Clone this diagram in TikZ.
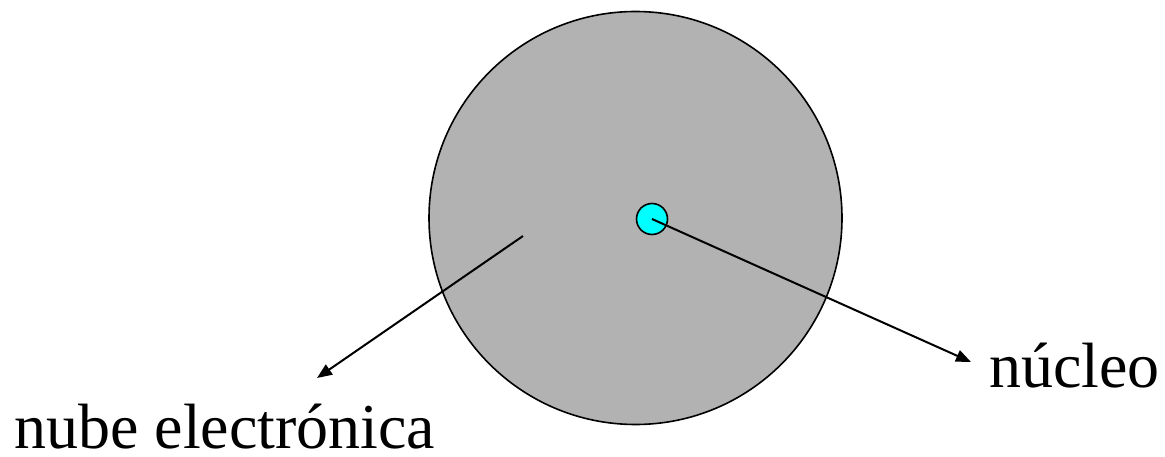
\documentclass[tikz,border=0pt]{standalone}
\usepackage{fontspec}
\newfontfamily\timesfont{Liberation Serif}
\usetikzlibrary{arrows.meta}
\definecolor{cloudgray}{RGB}{178,178,178}
\definecolor{nuccyan}{RGB}{0,255,255}
\tikzset{
  lbl/.style={inner sep=0pt,font=\timesfont\fontsize{64}{70}\selectfont},
  ptr/.style={line width=2pt,-{Triangle[length=15pt,width=12pt]}}
}
\begin{document}
\begin{tikzpicture}[x=1pt,y=-1pt]
\useasboundingbox (0,0) rectangle (1165,457);
\node[draw,circle,fill=cloudgray,line width=1.6pt,minimum size=413pt,inner sep=0pt] (cloud) at (635.5,218) {};
\node[draw,circle,fill=nuccyan,line width=1.6pt,minimum size=31pt,inner sep=0pt] (nucleus) at (652,219) {};
\coordinate (cloudpt) at (523,236);
\coordinate (tipA) at (317,378);
\coordinate (tipB) at (971,362);
\node[lbl,anchor=base west] (cloudlbl) at (14,448) {nube electrónica};
\node[lbl,anchor=base west] (nuclbl) at (989,387) {núcleo};
\draw[ptr] (cloudpt) -- (tipA);
\draw[ptr] (nucleus.center) -- (tipB);
\end{tikzpicture}
\end{document}
